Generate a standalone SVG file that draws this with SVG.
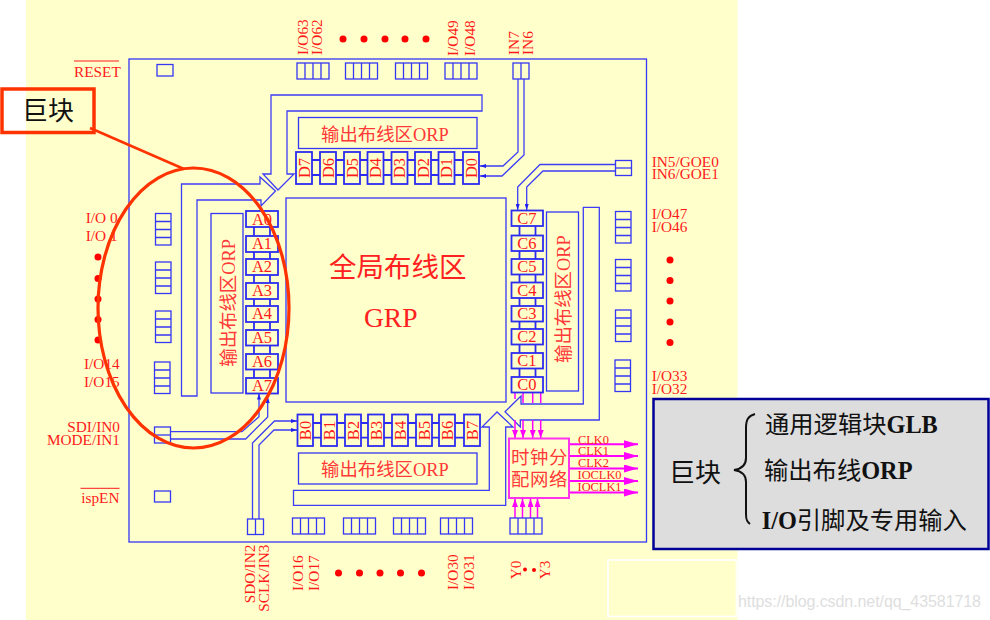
<svg xmlns="http://www.w3.org/2000/svg" xmlns:xlink="http://www.w3.org/1999/xlink" width="990" height="620" viewBox="0 0 990 620">
<style>
.b{fill:none;stroke:#3636f5;stroke-width:1.3}
.k{fill:#ffffcc;stroke:#2c2cf0;stroke-width:1.8}
.s{fill:none;stroke:#2c2cf0;stroke-width:1.8}
.w{fill:none;stroke:#3d3df5;stroke-width:1.3}
.m{fill:none;stroke:#ff00ff;stroke-width:1.5}
.mb{fill:none;stroke:#ff00ff;stroke-width:2}
.t{font-family:"Liberation Serif","Noto Sans CJK SC",serif;fill:#ff1a1a;font-size:15.3px}
.c{font-size:12.4px}
.n{font-size:16.5px;text-anchor:middle}
.o{font-family:"Liberation Serif","Noto Sans CJK SC",serif;fill:#ff3838;font-size:18.4px}
.g{font-family:"Liberation Serif","Noto Sans CJK SC",serif;fill:#ff2020;font-size:27.5px}
.d{fill:#ff0000}
.h{font-family:"Noto Sans CJK SC","Liberation Serif",serif;fill:#111;font-size:26px}
.l{font-family:"Noto Sans CJK SC",serif;fill:#111;font-size:24.3px}
.lb{font-family:"Liberation Serif",serif;font-weight:bold}
</style>
<defs>
<marker id="ab" viewBox="0 0 6 4" refX="6" refY="2" markerWidth="6" markerHeight="4" markerUnits="userSpaceOnUse" orient="auto"><path d="M0,0L6,2L0,4Z" fill="#2020f0"/></marker>
<marker id="am" viewBox="0 0 8 6" refX="8" refY="3" markerWidth="8" markerHeight="6" markerUnits="userSpaceOnUse" orient="auto"><path d="M0,0L8,3L0,6Z" fill="#ff00ff"/></marker>
<marker id="al" viewBox="0 0 14 8" refX="14" refY="4" markerWidth="14" markerHeight="8" markerUnits="userSpaceOnUse" orient="auto"><path d="M0,0L14,4L0,8Z" fill="#ff00ff"/></marker>
<g id="h4"><rect class="b" width="32" height="16"/><path class="b" d="M8,0V16M16,0V16M24,0V16"/></g>
<g id="v4"><rect class="b" width="15.500" height="31.500"/><path class="b" d="M0,8H15.500M0,16H15.500M0,24H15.500"/></g>
</defs>
<rect id="background" x="26" y="0" width="711.500" height="620" fill="#ffffcc"/>
<rect id="blank-patch" x="608" y="560" width="128.500" height="56.500" fill="none" stroke="#ffffff" stroke-width="1.600"/>
<rect id="chip" x="129" y="59" width="517.500" height="483" fill="none" stroke="#3636f5" stroke-width="1.300"/>

<g id="connectors">
<path class="w" d="M271,95H482V111H287V174H294L278,190L263,174H271Z"/>
<path class="w" d="M181.500,184H260V177L275.500,191L261,206V200H197V396H181.500Z"/>
<path class="w" d="M293.500,490.300H489.300V427H482L497,412L513,427H505.700V505.300H293.500Z"/>
<path class="w" d="M583.300,207.300H599.300V420H520.300V427L505,411.700L521,396V404H583.300Z"/>
<path class="w" marker-end="url(#ab)" d="M518,79V152L503,166H480"/>
<path class="w" marker-end="url(#ab)" d="M524,79V155L502,176H480"/>
<path class="w" marker-end="url(#ab)" d="M615.500,164.500H540L517.700,187V210"/>
<path class="w" marker-end="url(#ab)" d="M615.500,171H543L526.700,187V210"/>
<path class="w" marker-end="url(#ab)" d="M170.500,431.700H242L259,416.700V393.500"/>
<path class="w" marker-end="url(#ab)" d="M170.500,439H245.700L267.700,417V397"/>
<path class="w" marker-end="url(#ab)" d="M252.500,519V443L274.500,421H297"/>
<path class="w" marker-end="url(#ab)" d="M259,519V445L274,430H297"/>
<path class="m" d="M515,392V399M523,392V403M532.700,392V403M540.700,392V403"/>
<path class="m" marker-end="url(#am)" d="M515,420V438"/>
<path class="m" marker-end="url(#am)" d="M523,420V438"/>
<path class="m" marker-end="url(#am)" d="M532.700,420V438"/>
<path class="m" marker-end="url(#am)" d="M540.700,420V438"/>
<path class="mb" marker-end="url(#al)" d="M569,444.300H638"/>
<path class="mb" marker-end="url(#al)" d="M569,456H638"/>
<path class="mb" marker-end="url(#al)" d="M569,468.500H638"/>
<path class="mb" marker-end="url(#al)" d="M569,481H638"/>
<path class="mb" marker-end="url(#al)" d="M569,492.500H638"/>
<path class="m" marker-end="url(#am)" d="M515,518V499"/>
<path class="m" marker-end="url(#am)" d="M522.500,518V499"/>
<path class="m" marker-end="url(#am)" d="M530.500,518V499"/>
<path class="m" marker-end="url(#am)" d="M537.500,518V499"/>
<path class="s" d="M254,227V378M270,227V378"/>
<path class="s" d="M519.500,226V377M535.500,226V377"/>
<path class="s" d="M312,160H463M312,175H463"/>
<path class="s" d="M313,423H464M313,437.700H464"/>
</g>

<g id="GRP"><rect x="286" y="198" width="220" height="204" fill="#ffffcc" stroke="#3636f5" stroke-width="1.300"/>
<text class="g" x="329" y="277">全局布线区</text><text class="g" x="364" y="326.700">GRP</text></g>

<g id="ORP-top"><rect class="b" x="298.500" y="117.500" width="178.500" height="31"/><text class="o" x="321" y="141">输出布线区ORP</text></g>
<g id="ORP-bottom"><rect class="b" x="298.500" y="453" width="178.500" height="31"/><text class="o" x="321" y="475.500">输出布线区ORP</text></g>
<g id="ORP-left"><rect class="b" x="211" y="213.500" width="32" height="179.500"/><text class="o" transform="translate(235,366.700) rotate(-90)">输出布线区ORP</text></g>
<g id="ORP-right"><rect class="b" x="546.500" y="212" width="32" height="179"/><text class="o" transform="translate(570,363) rotate(-90)">输出布线区ORP</text></g>

<g id="blocks-A">
<rect class="k" x="246" y="211" width="32" height="16"/><text class="t n" x="262" y="224.500">A0</text>
<rect class="k" x="246" y="236" width="32" height="16"/><text class="t n" x="262" y="248.500">A1</text>
<rect class="k" x="246" y="259" width="32" height="16"/><text class="t n" x="262" y="272">A2</text>
<rect class="k" x="246" y="283" width="32" height="16"/><text class="t n" x="262" y="296">A3</text>
<rect class="k" x="246" y="306" width="32" height="16"/><text class="t n" x="262" y="319">A4</text>
<rect class="k" x="246" y="330" width="32" height="15.500"/><text class="t n" x="262" y="343">A5</text>
<rect class="k" x="246" y="354" width="32" height="15.500"/><text class="t n" x="262" y="367">A6</text>
<rect class="k" x="246" y="378" width="32" height="15.500"/><text class="t n" x="262" y="391">A7</text>
</g>
<g id="blocks-C">
<rect class="k" x="511.500" y="210.500" width="31.500" height="15.500"/><text class="t n" x="527" y="224">C7</text>
<rect class="k" x="511.500" y="235.500" width="31.500" height="15.500"/><text class="t n" x="527" y="248.500">C6</text>
<rect class="k" x="511.500" y="259" width="31.500" height="15.500"/><text class="t n" x="527" y="272">C5</text>
<rect class="k" x="511.500" y="282.500" width="31.500" height="15.500"/><text class="t n" x="527" y="295.500">C4</text>
<rect class="k" x="511.500" y="306" width="31.500" height="15.500"/><text class="t n" x="527" y="319">C3</text>
<rect class="k" x="511.500" y="329" width="31.500" height="15.500"/><text class="t n" x="527" y="342">C2</text>
<rect class="k" x="511.500" y="353" width="31.500" height="15.500"/><text class="t n" x="527" y="366">C1</text>
<rect class="k" x="511.500" y="377" width="31.500" height="15.500"/><text class="t n" x="527" y="390">C0</text>
</g>
<g id="blocks-D">
<rect class="k" x="463" y="152" width="16" height="32"/><text class="t n" transform="translate(476.500,168) rotate(-90)">D0</text>
<rect class="k" x="438.500" y="152" width="16" height="32"/><text class="t n" transform="translate(452,168) rotate(-90)">D1</text>
<rect class="k" x="415" y="152" width="16" height="32"/><text class="t n" transform="translate(428.500,168) rotate(-90)">D2</text>
<rect class="k" x="391.500" y="152" width="16" height="32"/><text class="t n" transform="translate(405,168) rotate(-90)">D3</text>
<rect class="k" x="367.500" y="152" width="16" height="32"/><text class="t n" transform="translate(381,168) rotate(-90)">D4</text>
<rect class="k" x="344" y="152" width="16" height="32"/><text class="t n" transform="translate(357.500,168) rotate(-90)">D5</text>
<rect class="k" x="320" y="152" width="16" height="32"/><text class="t n" transform="translate(333.500,168) rotate(-90)">D6</text>
<rect class="k" x="296" y="152" width="16" height="32"/><text class="t n" transform="translate(309.500,168) rotate(-90)">D7</text>
</g>
<g id="blocks-B">
<rect class="k" x="297.500" y="414.500" width="15.500" height="31.500"/><text class="t n" transform="translate(311,430.500) rotate(-90)">B0</text>
<rect class="k" x="321" y="414.500" width="16" height="31.500"/><text class="t n" transform="translate(334.500,430.500) rotate(-90)">B1</text>
<rect class="k" x="345" y="414.500" width="16" height="31.500"/><text class="t n" transform="translate(358.500,430.500) rotate(-90)">B2</text>
<rect class="k" x="368" y="414.500" width="16" height="31.500"/><text class="t n" transform="translate(381.500,430.500) rotate(-90)">B3</text>
<rect class="k" x="392" y="414.500" width="16" height="31.500"/><text class="t n" transform="translate(405.500,430.500) rotate(-90)">B4</text>
<rect class="k" x="416" y="414.500" width="16" height="31.500"/><text class="t n" transform="translate(429.500,430.500) rotate(-90)">B5</text>
<rect class="k" x="439" y="414.500" width="16" height="31.500"/><text class="t n" transform="translate(452.500,430.500) rotate(-90)">B6</text>
<rect class="k" x="464" y="414.500" width="16" height="31.500"/><text class="t n" transform="translate(477.500,430.500) rotate(-90)">B7</text>
</g>

<g id="clock-network"><rect x="509" y="438.500" width="60" height="59.500" fill="#ffffcc" stroke="#ff33ee" stroke-width="2"/>
<text class="o" x="511" y="464" letter-spacing="0.600">时钟分</text><text class="o" x="511" y="486" letter-spacing="0.600">配网络</text></g>
<g id="clock-labels">
<text class="t c" x="578" y="444">CLK0</text><text class="t c" x="578" y="454.500">CLK1</text><text class="t c" x="578" y="467.300">CLK2</text><text class="t c" x="577.500" y="479">IOCLK0</text><text class="t c" x="577.500" y="491">IOCLK1</text>
</g>

<g id="pins-top">
<rect class="b" x="157" y="64.500" width="16" height="11.500"/>
<use href="#h4" x="297" y="63"/><use href="#h4" x="345.500" y="63"/><use href="#h4" x="395.500" y="63"/><use href="#h4" x="445" y="63"/>
<rect class="b" x="513" y="63" width="16" height="16"/><path class="b" d="M521,63V79"/>
</g>
<g id="pins-bottom">
<use href="#h4" x="292.500" y="518"/><use href="#h4" x="343.500" y="518"/><use href="#h4" x="393.500" y="518"/><use href="#h4" x="440.500" y="518"/><use href="#h4" x="510" y="518"/>
<rect class="b" x="247.500" y="519" width="16" height="15.500"/><path class="b" d="M255.500,519V534.500"/>
</g>
<g id="pins-left">
<use href="#v4" x="155.500" y="213.500"/><use href="#v4" x="155.500" y="262"/><use href="#v4" x="155.500" y="311"/><use href="#v4" x="154.500" y="362"/>
<rect class="b" x="154.500" y="427" width="16" height="16"/><path class="b" d="M154.500,435H170.500"/>
<rect class="b" x="154.500" y="491" width="16" height="11"/>
</g>
<g id="pins-right">
<rect class="b" x="615.500" y="160.500" width="16" height="15"/><path class="b" d="M615.500,168H631.500"/>
<use href="#v4" x="615.500" y="211.500"/><use href="#v4" x="615.500" y="259.500"/><use href="#v4" x="615.500" y="310"/><use href="#v4" x="615" y="360"/>
</g>

<g id="pin-labels">
<text class="t" x="74" y="76.700">RESET</text><path d="M74,61H119" stroke="#ff1a1a" stroke-width="1"/>
<text class="t" x="85.700" y="223">I/O 0</text><text class="t" x="85.700" y="240.700">I/O 1</text>
<text class="t" x="84" y="369">I/O14</text><text class="t" x="84" y="387.300">I/O15</text>
<text class="t" x="120" y="431.700" text-anchor="end">SDI/IN0</text><text class="t" x="120" y="445" text-anchor="end">MODE/IN1</text>
<text class="t" x="119.500" y="502.700" text-anchor="end">ispEN</text><path d="M80.500,488.300H119.500" stroke="#ff1a1a" stroke-width="1"/>
<text class="t" x="651.700" y="166.700">IN5/GOE0</text><text class="t" x="651.700" y="179.300">IN6/GOE1</text>
<text class="t" x="651.700" y="219.300">I/O47</text><text class="t" x="651.700" y="232">I/O46</text>
<text class="t" x="651.700" y="380.700">I/O33</text><text class="t" x="651.700" y="394">I/O32</text>
<text class="t" transform="translate(307.700,55) rotate(-90)">I/O63</text><text class="t" transform="translate(322.300,55) rotate(-90)">I/O62</text>
<text class="t" transform="translate(458.300,56) rotate(-90)">I/O49</text><text class="t" transform="translate(475,56) rotate(-90)">I/O48</text>
<text class="t" transform="translate(519.300,55) rotate(-90)">IN7</text><text class="t" transform="translate(532.700,55) rotate(-90)">IN6</text>
<text class="t" transform="translate(255,603.300) rotate(-90)">SDO/IN2</text><text class="t" transform="translate(269.300,611.700) rotate(-90)">SCLK/IN3</text>
<text class="t" transform="translate(302.700,591) rotate(-90)">I/O16</text><text class="t" transform="translate(319,591) rotate(-90)">I/O17</text>
<text class="t" transform="translate(457.700,590) rotate(-90)">I/O30</text><text class="t" transform="translate(474,590) rotate(-90)">I/O31</text>
<text class="t" transform="translate(520.700,579.300) rotate(-90)">Y0</text><text class="t" transform="translate(550,579.300) rotate(-90)">Y3</text>
</g>
<g id="ellipsis-dots" class="d">
<circle cx="343" cy="39" r="3.500"/><circle cx="364" cy="39" r="3.500"/><circle cx="385" cy="39" r="3.500"/><circle cx="405" cy="39" r="3.500"/><circle cx="426" cy="39" r="3.500"/>
<circle cx="338.500" cy="573" r="3.500"/><circle cx="359.500" cy="573" r="3.500"/><circle cx="380" cy="573" r="3.500"/><circle cx="400.500" cy="573" r="3.500"/><circle cx="421.500" cy="573" r="3.500"/>
<circle cx="98" cy="257" r="3.500"/><circle cx="98" cy="278.500" r="3.500"/><circle cx="98" cy="299" r="3.500"/><circle cx="98" cy="319.500" r="3.500"/><circle cx="98" cy="340" r="3.500"/>
<circle cx="670" cy="260" r="3.500"/><circle cx="670" cy="280.500" r="3.500"/><circle cx="670" cy="301" r="3.500"/><circle cx="670" cy="322" r="3.500"/><circle cx="670" cy="342.500" r="3.500"/>
<circle cx="525" cy="569.500" r="2"/><circle cx="534" cy="570" r="2"/>
</g>

<g id="callout">
<rect x="2" y="89" width="92" height="43.500" fill="none" stroke="#ff3300" stroke-width="3.500"/>
<text class="h" x="22" y="120">巨块</text>
<path d="M90,128L184,169" fill="none" stroke="#ff3300" stroke-width="2.500"/>
<ellipse cx="193.500" cy="308" rx="95.500" ry="140" fill="none" stroke="#ff3300" stroke-width="3.200"/>
</g>

<g id="legend">
<rect x="653.500" y="399" width="335" height="150" fill="#dddddd" stroke="#000099" stroke-width="2.500"/>
<text class="h" x="669" y="482">巨块</text>
<path d="M755,414C748,416 746,420 746,428V458C746,466 741,469 734,470C741,471 746,474 746,482V514C746,520 747,522 750,524" fill="none" stroke="#111" stroke-width="2"/>
<text class="l" x="765" y="432.700">通用逻辑块<tspan class="lb">GLB</tspan></text>
<text class="l" x="764" y="479">输出布线<tspan class="lb">ORP</tspan></text>
<text class="l" x="761.700" y="529"><tspan class="lb">I/O</tspan>引脚及专用输入</text>
</g>
<text id="watermark" x="738" y="607" font-family="Liberation Sans,sans-serif" font-size="16" fill="#dedede" textLength="243">https://blog.csdn.net/qq_43581718</text>
</svg>
